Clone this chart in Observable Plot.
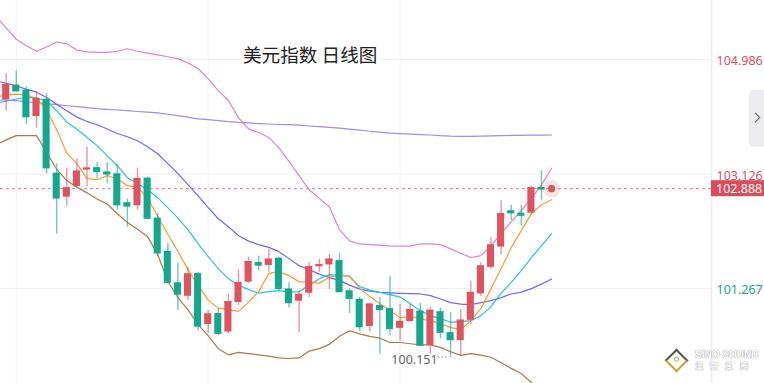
<!DOCTYPE html>
<html><head><meta charset="utf-8">
<script src="https://cdn.jsdelivr.net/npm/d3@7"></script>
<script src="https://cdn.jsdelivr.net/npm/@observablehq/plot@0.6"></script>
<style>
html,body{margin:0;padding:0;background:#fff;overflow:hidden}
#wrap{position:relative;width:764px;height:383px;overflow:hidden;font-family:"Noto Sans","Noto Sans CJK SC",sans-serif}
#wrap svg{position:absolute;left:0;top:0}
#title{position:absolute;left:242px;top:44px;font-family:"Noto Sans CJK SC",sans-serif;font-size:18.6px;line-height:20px;color:#222;background:#fff;padding:0 1px;white-space:nowrap}
#tab{position:absolute;left:749px;top:90px;width:15px;height:57px;background:#ebebf0;border-radius:5px 0 0 5px}
#tab i{position:absolute;left:3px;top:24px;width:6px;height:6px;border-top:1.6px solid #666;border-right:1.6px solid #666;transform:rotate(45deg)}
#logo{position:absolute;left:664px;top:348px;width:96px;height:26px;white-space:nowrap}
#logo .dia{position:absolute;left:4px;top:4px;width:13px;height:13px;transform:rotate(45deg);border:2px solid #555;border-right-color:#c9a52a;border-bottom-color:#c9a52a;background:#fff}
#logo .dia b{position:absolute;left:3px;top:3px;width:5px;height:5px;border-radius:50%;border:1.5px solid #8cc63f;box-sizing:border-box}
#logo .en{position:absolute;left:31px;top:1px;font-family:"Liberation Sans",Arial,sans-serif;font-weight:bold;font-size:10px;line-height:12px;color:#fff;text-shadow:0 0 1px #999,0 0 1px #999;white-space:nowrap}
#logo .zh{position:absolute;left:31px;top:13px;font-family:"Noto Sans CJK TC",sans-serif;font-weight:bold;font-size:8px;line-height:10px;color:#fff;text-shadow:0 0 1px #999,0 0 1px #999;letter-spacing:7px;white-space:nowrap}
</style></head><body><div id="wrap"></div>
<script>
// ---- candles (index 0..53) ----
const opens  = [104.33,104.57,104.49,104.06,104.34,103.14,102.75,102.92,103.19,103.23,103.16,103.13,102.66,102.61,103.06,102.41,101.87,101.36,101.14,101.51,100.68,100.86,100.56,101.04,101.37,101.69,101.64,101.76,101.26,101.06,101.19,101.62,101.65,101.72,101.23,101.09,100.65,100.99,100.94,100.62,100.73,100.90,100.34,100.89,100.55,100.42,100.75,101.18,101.61,101.94,102.53,102.49,102.49,102.91];
const highs  = [104.76,104.80,104.54,104.46,104.43,103.29,103.22,103.37,103.56,103.31,103.31,103.28,102.72,103.22,103.08,102.48,102.00,101.68,101.61,101.53,100.91,100.94,101.17,101.57,101.77,101.79,101.90,101.77,101.36,101.22,101.68,101.74,101.82,101.84,101.26,101.12,101.03,101.12,101.46,101.01,101.01,101.03,100.96,100.95,100.88,100.92,101.38,101.68,102.10,102.69,102.62,102.62,102.93,103.18];
const lows   = [104.15,104.47,103.93,103.87,103.13,102.15,102.61,102.91,102.92,103.05,102.97,102.54,102.26,102.54,102.40,101.78,101.34,100.91,101.07,100.58,100.53,100.50,100.53,100.99,101.35,101.56,101.53,101.23,100.95,100.55,101.12,101.53,101.25,101.21,100.86,100.57,100.56,100.20,100.50,100.41,100.72,100.33,100.20,100.45,100.151,100.18,100.68,101.14,101.58,101.81,102.37,102.28,102.47,102.69];
const closes = [104.58,104.48,104.06,104.35,103.23,102.74,102.90,103.17,103.22,103.17,103.13,102.63,102.61,103.05,102.41,101.85,101.37,101.18,101.50,100.66,100.85,100.54,101.05,101.36,101.70,101.65,101.74,101.27,101.04,101.17,101.62,101.65,101.74,101.22,101.11,100.65,101.01,100.93,100.62,100.73,100.92,100.35,100.91,100.56,100.44,100.75,101.20,101.63,101.97,102.48,102.50,102.46,102.90,102.888];

// ---- indicator lines (index -1..54) ----
const lineStart = -1;
const ma5   = [104.382,104.406,104.425,104.409,104.357,104.17,103.846,103.464,103.294,103.05,103.034,103.099,103.05,102.937,102.909,102.742,102.44,102.149,101.87,101.573,101.318,101.078,100.948,100.924,100.896,101.045,101.216,101.513,101.541,101.476,101.378,101.367,101.354,101.451,101.487,101.459,101.273,101.135,101.021,100.912,100.786,100.821,100.773,100.745,100.692,100.636,100.594,100.745,100.94,101.265,101.589,101.93,102.206,102.482,102.628,102.709];
const ma10  = [104.276,104.308,104.344,104.37,104.362,104.308,104.154,103.968,103.854,103.724,103.586,103.424,103.261,103.067,102.974,102.872,102.742,102.58,102.411,102.222,101.995,101.784,101.589,101.427,101.32,101.248,101.191,101.216,101.232,101.208,101.216,101.321,101.427,101.492,101.484,101.467,101.297,101.24,101.205,101.167,101.127,101.021,100.907,100.826,100.778,100.718,100.729,100.745,100.826,100.972,101.191,101.362,101.557,101.768,101.963,102.157];
const ma20  = [104.64,104.60,104.56,104.50,104.455,104.37,104.26,104.154,104.05,103.98,103.927,103.856,103.784,103.732,103.667,103.57,103.456,103.294,103.132,102.953,102.771,102.58,102.40,102.27,102.125,102.036,101.979,101.935,101.865,101.752,101.638,101.573,101.50,101.443,101.394,101.321,101.256,101.224,101.205,101.196,101.188,101.183,101.178,101.151,101.097,101.037,101.013,101.005,101.037,101.07,101.118,101.178,101.208,101.265,101.338,101.422];
const ma60  = [104.333,104.325,104.317,104.30,104.284,104.268,104.252,104.235,104.219,104.203,104.187,104.177,104.166,104.154,104.141,104.130,104.119,104.097,104.073,104.049,104.02,104.008,103.992,103.976,103.964,103.956,103.946,103.938,103.930,103.927,103.919,103.906,103.895,103.883,103.870,103.854,103.838,103.821,103.805,103.789,103.781,103.773,103.765,103.760,103.748,103.740,103.737,103.737,103.740,103.745,103.748,103.752,103.753,103.757,103.758,103.760];
const bollUp = [105.68,105.50,105.315,105.21,105.12,105.19,105.27,105.24,105.14,105.11,105.10,105.10,105.12,105.16,105.12,105.09,105.06,105.03,105.00,104.93,104.84,104.67,104.48,104.32,104.04,103.86,103.80,103.72,103.55,103.33,103.10,102.87,102.73,102.59,102.22,102.04,101.99,101.98,101.97,101.96,101.955,101.955,101.99,101.99,101.98,101.91,101.84,101.77,101.80,101.96,102.16,102.35,102.53,102.73,102.95,103.22];
const bollDn = [103.60,103.68,103.75,103.75,103.75,103.48,103.20,103.02,102.91,102.82,102.72,102.64,102.48,102.34,102.23,102.11,101.82,101.38,101.12,100.92,100.68,100.50,100.29,100.19,100.23,100.21,100.19,100.17,100.14,100.13,100.14,100.25,100.29,100.36,100.49,100.58,100.53,100.49,100.46,100.39,100.39,100.37,100.35,100.35,100.31,100.24,100.18,100.21,100.185,100.15,100.06,99.97,99.885,99.74,99.61,99.48];

// ---- axis ticks / labels ----
const tickValues = [104.986, 103.126, 101.267];
const tickColors = ["#e0525f", "#e0525f", "#26a58a"];
const gridX = [1, 20, 39];
const lastPrice = 102.888;
const lastIndex = 54;
const lowLabel = "100.151";
const lowIndex = 44;
const title = "美元指数 日线图";

const RED = "#e0525f", GREEN = "#10a98b";
const candles = opens.map((o, i) => ({i, o, h: highs[i], l: lows[i], c: closes[i], up: closes[i] >= o}));
const toLine = arr => arr.map((v, k) => ({i: k + lineStart, v}));
const lines = [
  {data: toLine(bollUp), color: "#df80d6"},
  {data: toLine(bollDn), color: "#b0774a"},
  {data: toLine(ma60), color: "#a58ae6"},
  {data: toLine(ma20), color: "#6b6cf0"},
  {data: toLine(ma10), color: "#2ec3dd"},
  {data: toLine(ma5), color: "#ff9a3c"}
];
const lowCandle = candles[lowIndex];

const plot = Plot.plot({
  width: 764, height: 383,
  marginLeft: 0, marginRight: 53, marginTop: 0, marginBottom: 0,
  x: {type: "linear", domain: [-0.564, 69.83], axis: null},
  y: {type: "linear", domain: [99.724, 105.944], axis: null},
  style: {background: "transparent", fontFamily: "'Noto Sans', sans-serif", overflow: "visible"},
  marks: [
    Plot.ruleY(tickValues, {stroke: "#f0f0f2", strokeWidth: 1}),
    Plot.ruleX(gridX, {stroke: "#f3f3f5", strokeWidth: 1}),
    Plot.frame({anchor: "right", stroke: "#ececef", strokeWidth: 1.5}),
    Plot.ruleY([lastPrice], {stroke: "#ee7a86", strokeDasharray: "3,3", strokeWidth: 1}),
    ...lines.map(L => Plot.line(L.data, {x: "i", y: "v", stroke: L.color, strokeWidth: 1.2, clip: true})),
    Plot.ruleX(candles, {x: "i", y1: "l", y2: "h", stroke: d => d.up ? RED : GREEN, strokeOpacity: 0.6, strokeWidth: 1.4}),
    Plot.rect(candles, {x1: d => d.i - 0.35, x2: d => d.i + 0.35, y1: d => Math.min(d.o, d.c), y2: d => Math.max(d.o, d.c), fill: d => d.up ? RED : GREEN}),
    Plot.ruleY(candles, {x1: d => d.i - 0.35, x2: d => d.i + 0.35, y: "c", stroke: d => d.up ? RED : GREEN, strokeWidth: 1.6}),
    Plot.ruleY([lowCandle], {x1: d => d.i - 1.2, x2: d => d.i - 0.1, y: "l", stroke: "#888", strokeDasharray: "1.2,2.4", strokeWidth: 1.2}),
    Plot.text([lowCandle], {x: "i", y: "l", text: () => lowLabel, textAnchor: "end", dx: -13, dy: 3, fill: "#666", fontSize: 12.5}),
    Plot.dot([{i: lastIndex, v: lastPrice}], {x: "i", y: "v", r: 9, fill: RED, fillOpacity: 0.15}),
    Plot.dot([{i: lastIndex, v: lastPrice}], {x: "i", y: "v", r: 3.6, fill: RED}),
    Plot.text(tickValues, {y: d => d, frameAnchor: "right", dx: 5, dy: 1.5, textAnchor: "start", fill: (d, k) => tickColors[k], fontSize: 12.5})
  ]
});

// current price label box in right axis area
const yS = plot.scale("y");
const py = yS.apply(lastPrice);
const svg = d3.select(plot);
const g = svg.append("g").attr("text-anchor", "start");
g.append("rect").attr("x", 711).attr("y", py - 8).attr("width", 53).attr("height", 16).attr("fill", "#dc4d5b");
g.append("text").attr("x", 716).attr("y", py).attr("dy", "0.35em").attr("text-anchor", "start").attr("fill", "#fff").attr("font-size", 12.5)
  .attr("font-family", "'Noto Sans', sans-serif").text(lastPrice.toFixed(3));

const wrap = document.getElementById("wrap");
wrap.appendChild(plot);
const t = document.createElement("div"); t.id = "title"; t.textContent = title; wrap.appendChild(t);
const tab = document.createElement("div"); tab.id = "tab"; tab.innerHTML = "<i></i>"; wrap.appendChild(tab);
const logo = document.createElement("div"); logo.id = "logo";
logo.innerHTML = '<div class="dia"><b></b></div><div class="en">SiNO SOUND</div><div class="zh">漢聲集團</div>';
wrap.appendChild(logo);
</script></body></html>
